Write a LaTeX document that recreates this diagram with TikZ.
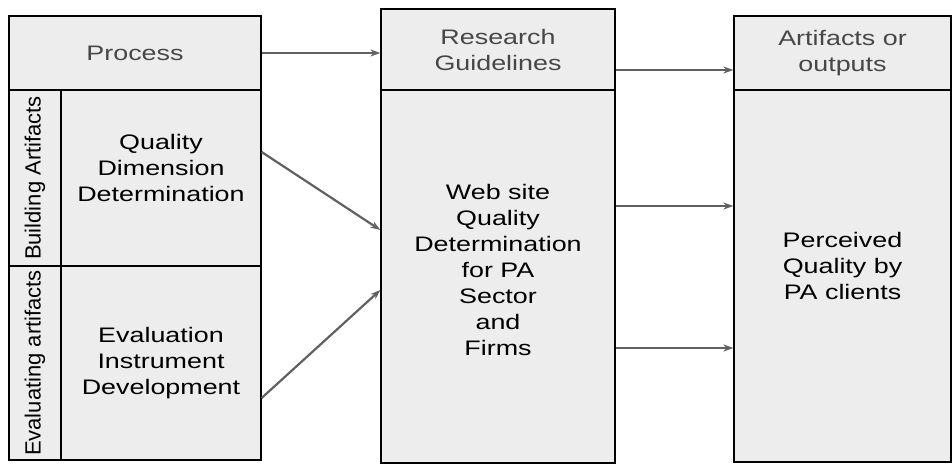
\documentclass[tikz,border=0pt]{standalone}
\usepackage{fontspec}
\setmainfont[FakeStretch=1.28]{Liberation Sans}
\newfontfamily\sidefont{Liberation Sans}
\usepackage{tikz}
\usetikzlibrary{arrows.meta, positioning}

\tikzset{
  cell/.style={draw=black, line width=1.3pt, fill=black!7, rectangle, inner sep=0pt},
  body/.style={align=center, font=\fontsize{21}{26}\selectfont},
  head/.style={cell, body, text=black!72},
  side/.style={cell, rotate=90, font=\sidefont\fontsize{22}{26}\selectfont},
  flow/.style={-{Stealth[length=10pt,width=7pt]}, line width=2.2pt, draw=black!62},
}

\begin{document}
\begin{tikzpicture}[x=1pt, y=-1pt]

\useasboundingbox (0,0) rectangle (952,465);

% left column: process
\node[head, minimum width=252pt, minimum height=74pt] (proc) at (135,53) {Process};
\node[side, minimum width=176pt, minimum height=52pt] (build) at (35,178) {Building Artifacts};
\node[side, minimum width=194pt, minimum height=52pt] (evalu) at (35,363) {Evaluating artifacts};
\node[cell, minimum width=200pt, minimum height=176pt,
      label={[body, yshift=10pt]center:Quality\\Dimension\\Determination}] (qdd) at (161,178) {};
\node[cell, body, minimum width=200pt, minimum height=194pt] (eid) at (161,363)
  {Evaluation\\Instrument\\Development};

% middle column: guidelines
\node[head, minimum width=234pt, minimum height=81pt] (guide) at (498,49.5) {Research\\Guidelines};
\node[cell, minimum width=234pt, minimum height=373pt,
      label={[body, yshift=7pt]center:Web site\\Quality\\Determination\\for PA\\Sector\\and\\Firms}] (web) at (498,276.5) {};

% right column: outputs
\node[head, minimum width=217pt, minimum height=74pt] (outp) at (842.5,53) {Artifacts or\\outputs};
\node[cell, minimum width=217pt, minimum height=372pt,
      label={[body, yshift=10pt]center:Perceived\\Quality by\\PA clients}] (perc) at (842.5,276) {};

% arrows from left to right
\draw[flow] (proc.east) -- (proc.east -| guide.west);
\draw[flow] ([yshift=26pt]qdd.east) -- ([yshift=46.5pt]web.west);
\draw[flow] ([yshift=-35pt]eid.east) -- ([yshift=-13.5pt]web.west);
\draw[flow] ([yshift=-20.5pt]guide.east) -- ([yshift=-20.5pt]guide.east -| outp.west);
\draw[flow] ([yshift=70.5pt]web.east) -- ([yshift=70.5pt]web.east -| perc.west);
\draw[flow] ([yshift=-71.5pt]web.east) -- ([yshift=-71.5pt]web.east -| perc.west);

\end{tikzpicture}
\end{document}
